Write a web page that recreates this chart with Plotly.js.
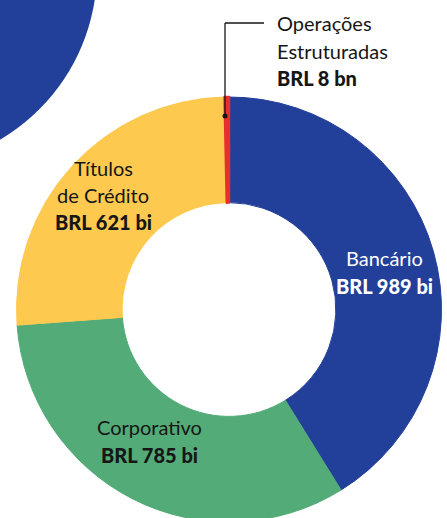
<!DOCTYPE html>
<html>
<head>
<meta charset="utf-8">
<script src="https://cdn.plot.ly/plotly-3.0.1.min.js"></script>
<style>
html,body{margin:0;padding:0;overflow:hidden;background:#fff;}
#chart{width:447px;height:530px;}
</style>
</head>
<body>
<div id="chart"></div>
<script>
const categories = ["Bancário", "Corporativo", "Títulos de Crédito", "Operações Estruturadas"];
const labelLines = [["Bancário"], ["Corporativo"], ["Títulos", "de Crédito"], ["Operações", "Estruturadas"]];
const values = [989, 785, 621, 8];
const valueLabels = ["BRL 989 bi", "BRL 785 bi", "BRL 621 bi", "BRL 8 bn"];
const colors = ["#22409a", "#53ab78", "#fec94f", "#e6302c"];

const W = 447, H = 530;
const px = x => x / W;
const py = y => 1 - y / H;
const FONT = "Lato, 'Noto Sans', sans-serif";
const INK = "#161616";

const trace = {
  type: "pie",
  labels: categories,
  values: values,
  sort: false,
  direction: "clockwise",
  rotation: 0,
  hole: 0.503,
  textinfo: "none",
  hoverinfo: "none",
  showlegend: false,
  marker: {colors: colors, line: {color: colors, width: [1, 1, 1, 2.5]}},
  domain: {x: [px(229 - 212.5), px(229 + 212.5)], y: [py(309.5 + 212.5), py(309.5 - 212.5)]}
};

// label block placement: [x, first line y, anchor, colour]
const blocks = [
  [384, 258, "center", "#ffffff"],
  [149, 427, "center", INK],
  [103, 167.5, "center", INK],
  [275, 23, "left", INK]
];
const LINE = 27.5;
const annotations = [];
blocks.forEach((b, i) => {
  const lines = labelLines[i].concat([valueLabels[i]]);
  lines.forEach((t, j) => {
    const bold = j === lines.length - 1;
    annotations.push({
      xref: "paper", yref: "paper", x: px(b[0]), y: py(b[1] + j * LINE),
      xanchor: b[2], yanchor: "middle", showarrow: false, text: t,
      font: {family: FONT, size: 20, color: b[3], weight: bold ? 900 : 400}
    });
  });
});

const layout = {
  width: W, height: H,
  margin: {l: 0, r: 0, t: 0, b: 0},
  paper_bgcolor: "#fff",
  shapes: [
    {type: "circle", xref: "paper", yref: "paper", layer: "below",
     x0: px(-297), x1: px(97), y0: py(167), y1: py(-227),
     fillcolor: "#22409a", line: {width: 0}},
    {type: "line", xref: "paper", yref: "paper", x0: px(225), x1: px(225), y0: py(116), y1: py(23),
     line: {color: INK, width: 1.3}},
    {type: "line", xref: "paper", yref: "paper", x0: px(225), x1: px(264), y0: py(23), y1: py(23),
     line: {color: INK, width: 1.3}},
    {type: "circle", xref: "paper", yref: "paper", x0: px(222.5), x1: px(227.5), y0: py(118.5), y1: py(113.5),
     fillcolor: INK, line: {width: 0}}
  ],
  annotations: annotations
};

Plotly.newPlot("chart", [trace], layout, {displayModeBar: false, staticPlot: true});
</script>
</body>
</html>
